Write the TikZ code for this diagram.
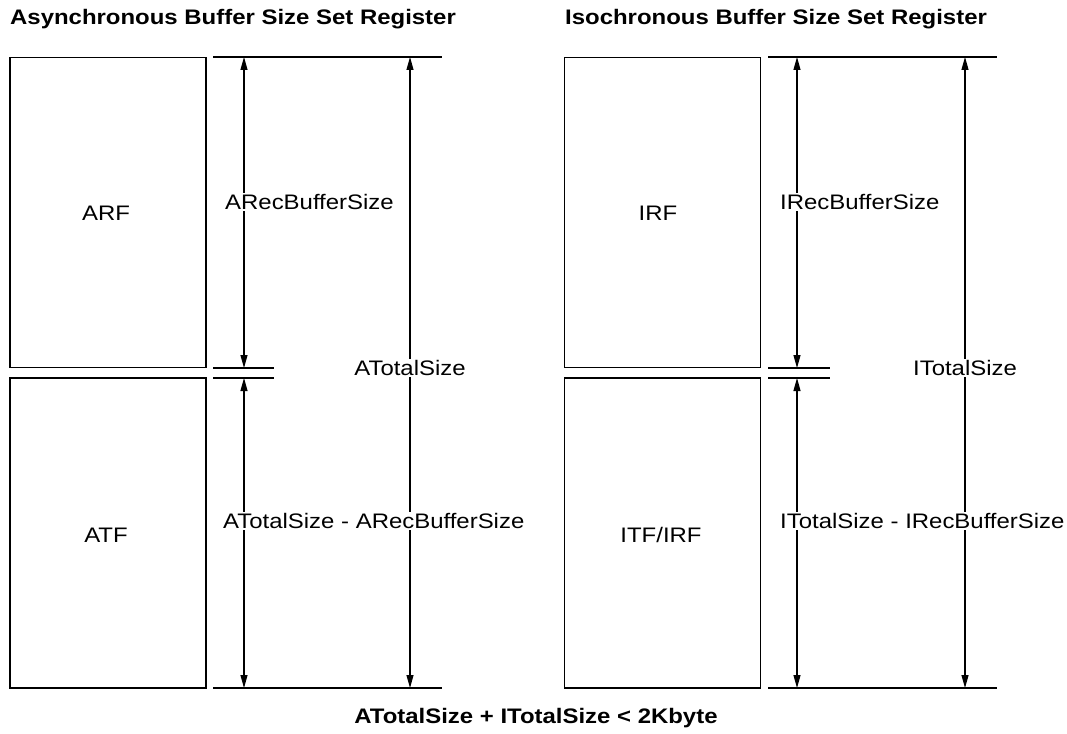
\documentclass[tikz,border=0pt]{standalone}
\usepackage{fontspec}
\setmainfont[FakeStretch=1.14]{Liberation Sans}
\usetikzlibrary{arrows.meta}
\begin{document}
\begin{tikzpicture}[x=1pt,y=-1pt,
  every node/.style={font=\fontsize{21}{24}\selectfont},
  fifo/.style={draw,line width=1.1pt,minimum width=196pt,minimum height=310pt,inner sep=0pt},
  refline/.style={line width=1.1pt},
  dim/.style={line width=1.1pt,{Triangle[length=13pt,width=7pt]}-{Triangle[length=13pt,width=7pt]}},
  lbl/.style={fill=white,inner sep=1pt},
  title/.style={font=\fontsize{21}{24}\selectfont\bfseries,anchor=west,inner sep=0pt}]
\useasboundingbox (0,0) rectangle (1067,733);
% titles
\node[title] (t1) at (10,19) {Asynchronous Buffer Size Set Register};
\node[title] (t2) at (565,19) {Isochronous Buffer Size Set Register};
\node[font=\fontsize{21}{24}\selectfont\bfseries,inner sep=0pt] (t3) at (536,718) {ATotalSize + ITotalSize < 2Kbyte};
% ---------- left ----------
\node[fifo] (arf) at (108,212.5) {};
\node[fifo] (atf) at (108,533) {};
\node (arfl) at (106,213) {ARF};
\node (atfl) at (106,535) {ATF};
\coordinate (a1) at (213,57);  \coordinate (a1e) at (442,57);
\coordinate (a2) at (213,368); \coordinate (a2e) at (274,368);
\coordinate (a3) at (213,378); \coordinate (a3e) at (274,378);
\coordinate (a4) at (213,688); \coordinate (a4e) at (442,688);
\draw[refline] (a1) -- (a1e);
\draw[refline] (a2) -- (a2e);
\draw[refline] (a3) -- (a3e);
\draw[refline] (a4) -- (a4e);
\coordinate (ra1) at (244,57);  \coordinate (ra2) at (244,368);
\coordinate (ra3) at (244,378); \coordinate (ra4) at (244,688);
\coordinate (ta1) at (410,57);  \coordinate (ta2) at (410,688);
\draw[dim] (ra1) -- (ra2);
\draw[dim] (ra3) -- (ra4);
\draw[dim] (ta1) -- (ta2);
\node[lbl,anchor=west] (arec) at (224,202) {ARecBufferSize};
\node[lbl] (atot) at (410,368) {ATotalSize};
\node[lbl,anchor=west] (adiff) at (222,521) {ATotalSize - ARecBufferSize};
% ---------- right ----------
\node[fifo] (irf) at (662.5,212.5) {};
\node[fifo] (itf) at (662.5,533) {};
\node (irfl) at (658,213) {IRF};
\node (itfl) at (661,535) {ITF/IRF};
\coordinate (b1) at (768,57);  \coordinate (b1e) at (997,57);
\coordinate (b2) at (768,368); \coordinate (b2e) at (830,368);
\coordinate (b3) at (768,378); \coordinate (b3e) at (830,378);
\coordinate (b4) at (768,688); \coordinate (b4e) at (997,688);
\draw[refline] (b1) -- (b1e);
\draw[refline] (b2) -- (b2e);
\draw[refline] (b3) -- (b3e);
\draw[refline] (b4) -- (b4e);
\coordinate (rb1) at (797,57);  \coordinate (rb2) at (797,368);
\coordinate (rb3) at (797,378); \coordinate (rb4) at (797,688);
\coordinate (tb1) at (965,57);  \coordinate (tb2) at (965,688);
\draw[dim] (rb1) -- (rb2);
\draw[dim] (rb3) -- (rb4);
\draw[dim] (tb1) -- (tb2);
\node[lbl,anchor=west] (irec) at (779,202) {IRecBufferSize};
\node[lbl] (itot) at (965,368) {ITotalSize};
\node[lbl,anchor=west] (idiff) at (779,521) {ITotalSize - IRecBufferSize};
\end{tikzpicture}
\end{document}
